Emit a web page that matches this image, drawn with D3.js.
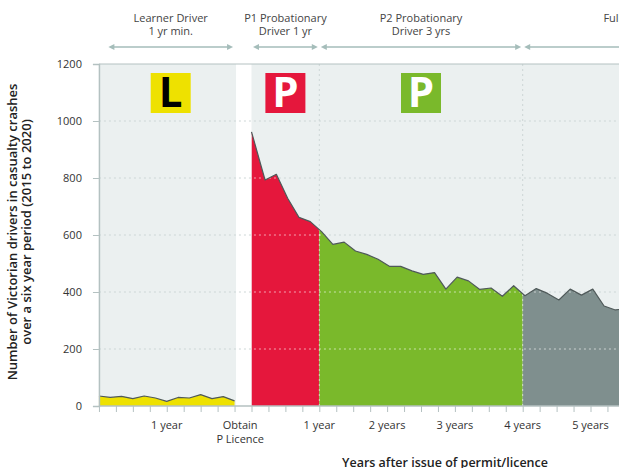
<!DOCTYPE html>
<html><head><meta charset="utf-8">
<script src="https://cdn.jsdelivr.net/npm/d3@7/dist/d3.min.js"></script>
<style>body{margin:0;background:#fff;} svg{display:block;font-family:"Open Sans",sans-serif;}</style>
</head><body><svg id="c" width="619" height="468"></svg>
<script>
// ---- data ----
const learnerMonths = [-27, -25, -23, -21, -19, -17, -15, -13, -11, -9, -7, -5, -3];
const learnerValues = [35, 30, 34, 26, 35, 28, 16, 30, 28, 40, 26, 33, 18];
const probMonths = [0, 2.4, 4.4, 6.4, 8.4, 10.4, 12.4, 14.4, 16.4, 18.4, 20.4, 22.4, 24.4, 26.4, 28.4, 30.4, 32.4, 34.4, 36.4, 38.4, 40.4, 42.4, 44.4, 46.4, 48.4, 50.4, 52.4, 54.4, 56.4, 58.4, 60.4, 62.4, 64.4, 66.4];
const probValues = [962, 793, 813, 729, 662, 647, 612, 567, 575, 544, 532, 515, 490, 490, 474, 462, 468, 410, 452, 439, 409, 414, 385, 422, 387, 412, 395, 372, 410, 389, 410, 351, 337, 342];
const yTicks = [0, 200, 400, 600, 800, 1000, 1200];
const gridValues = [200, 400, 600, 800, 1000];
const gridMonths = [12, 48];
const xTickMonths = d3.range(-27, -2, 3).concat(d3.range(0, 67, 3));
const xLabelMonths = [-15, -2, 12, 24, 36, 48, 60];
const xLabelLines = [["1 year"], ["Obtain", "P Licence"], ["1 year"], ["2 years"], ["3 years"], ["4 years"], ["5 years"]];
const phaseLine1 = ["Learner Driver", "P1 Probationary", "P2 Probationary", "Full Licence"];
const phaseLine2 = ["1 yr min.", "Driver 1 yr", "Driver 3 yrs", ""];
const phaseArrowStart = [-25.6, 0, 12, 48];
const phaseArrowEnd = [-3, 12, 48, 87];
const bandStart = [0, 12, 48];
const bandEnd = [12, 48, 80];
const iconLetters = ["L", "P", "P"];
const yTitle = ["Number of Victorian drivers in casualty crashes", "over a six year period (2015 to 2020)"];
const xTitle = "Years after issue of permit/licence";

// ---- styles ----
const C = {bg:"#ebf0f0", yellow:"#eee100", red:"#e5173c", green:"#7ab92b", grey:"#7f8f8e",
  line:"#4f5959", axis:"#b4c1c1", grid:"#cdd6d6", arrow:"#a5bdba", text:"#333"};
const bandColors = [C.red, C.green, C.grey];
const iconFill = [C.yellow, C.red, C.green];
const iconText = ["#000", "#fff", "#fff"];

const W = 619, H = 468;
const svg = d3.select("#c");
const x = d3.scaleLinear().domain([0, 12]).range([251.5, 319.3]);
const y = d3.scaleLinear().domain([0, 1200]).range([406, 64]);

const learner = learnerMonths.map((m, i) => ({m, v: learnerValues[i]}));
const prob = probMonths.map((m, i) => ({m, v: probValues[i]}));

const defs = svg.append("defs");

// backgrounds
svg.append("rect").attr("x", x(-27)).attr("y", y(1200)).attr("width", x(-3) - x(-27) + 1.5).attr("height", y(0) - y(1200)).attr("fill", C.bg);
svg.append("rect").attr("x", x(0)).attr("y", y(1200)).attr("width", W - x(0)).attr("height", y(0) - y(1200)).attr("fill", C.bg);

// grid under
const gridG = svg.append("g");
function drawGrid(g, color, op) {
  g.selectAll("line.h").data(gridValues).join("line").attr("class", "h")
    .attr("x1", x(-27)).attr("x2", W).attr("y1", d => y(d)).attr("y2", d => y(d))
    .attr("stroke", color).attr("stroke-opacity", op).attr("stroke-width", 1).attr("stroke-dasharray", "2,3");
  g.selectAll("line.v").data(gridMonths).join("line").attr("class", "v")
    .attr("x1", d => x(d)).attr("x2", d => x(d)).attr("y1", y(1200)).attr("y2", y(0))
    .attr("stroke", color).attr("stroke-opacity", op).attr("stroke-width", 1).attr("stroke-dasharray", "2,3");
}
drawGrid(gridG, C.grid, 1);

// areas
const area = d3.area().x(d => x(d.m)).y0(y(0)).y1(d => y(d.v));
const line = d3.line().x(d => x(d.m)).y(d => y(d.v));

svg.append("path").attr("d", area(learner)).attr("fill", C.yellow);
bandStart.forEach((s, i) => {
  const id = "band" + i;
  defs.append("clipPath").attr("id", id).append("rect")
    .attr("x", x(s)).attr("y", 0).attr("width", Math.min(x(bandEnd[i]), W + 20) - x(s)).attr("height", H);
  svg.append("path").attr("d", area(prob)).attr("fill", bandColors[i]).attr("clip-path", `url(#${id})`);
});

// grid over areas (light)
defs.append("clipPath").attr("id", "areaClip").append("path").attr("d", area(prob));
const gridOver = svg.append("g").attr("clip-path", "url(#areaClip)");
drawGrid(gridOver, "#ffffff", 0.6);

svg.append("path").attr("d", line(learner)).attr("fill", "none").attr("stroke", C.line).attr("stroke-width", 1.2).attr("stroke-linejoin", "round");
svg.append("path").attr("d", line(prob)).attr("fill", "none").attr("stroke", C.line).attr("stroke-width", 1.2).attr("stroke-linejoin", "round");

// top line
svg.append("line").attr("x1", x(-27)).attr("x2", W).attr("y1", y(1200)).attr("y2", y(1200))
  .attr("stroke", C.axis).attr("stroke-width", 1);

// y axis
const yAxis = d3.axisLeft(y).tickValues(yTicks).tickSize(6).tickPadding(11).tickFormat(d3.format("d"));
const yg = svg.append("g").attr("transform", `translate(${x(-27)},0)`).call(yAxis);
yg.select(".domain").attr("stroke", C.axis).attr("stroke-width", 1.5);
yg.selectAll(".tick line").attr("stroke", C.axis);
yg.selectAll(".tick text").attr("fill", C.text).attr("font-size", 11).attr("font-family", '"Open Sans",sans-serif');

// x axis
const xAxis = d3.axisBottom(x).tickValues(xTickMonths).tickSize(6).tickFormat("");
const xg = svg.append("g").attr("transform", `translate(0,${y(0)})`).call(xAxis);
xg.select(".domain").remove();
xg.append("line").attr("x1", x(-27)).attr("x2", W).attr("stroke", C.axis).attr("stroke-width", 1.5);
xg.selectAll(".tick line").attr("stroke", C.axis);

// x labels
xLabelMonths.forEach((m, i) => {
  const t = svg.append("text").attr("x", x(m)).attr("y", 429).attr("text-anchor", "middle")
    .attr("font-size", 11).attr("fill", C.text);
  xLabelLines[i].forEach((s, j) => t.append("tspan").attr("x", x(m)).attr("dy", j ? 14 : 0).text(s));
});

// icons
phaseLine1.slice(0, 3).forEach((_, i) => {
  const cx = (x(phaseArrowStart[i]) + x(phaseArrowEnd[i])) / 2;
  svg.append("rect").attr("x", cx - 20).attr("y", 73).attr("width", 40).attr("height", 40).attr("fill", iconFill[i]);
  svg.append("text").attr("x", cx).attr("y", 107).attr("text-anchor", "middle").attr("font-size", 42)
    .attr("font-weight", 700).attr("fill", iconText[i]).text(iconLetters[i]);
});

// header arrows + labels
phaseLine1.forEach((lab, i) => {
  const x1 = x(phaseArrowStart[i]) + 1.5, x2 = x(phaseArrowEnd[i]) - 1.5, yy = 47;
  const cx = (x1 + x2) / 2;
  svg.append("line").attr("x1", x1 + 4).attr("x2", x2 - 4).attr("y1", yy).attr("y2", yy)
    .attr("stroke", C.arrow).attr("stroke-width", 1.6);
  svg.append("path").attr("d", `M${x1},${yy}L${x1 + 6},${yy - 3}L${x1 + 6},${yy + 3}Z`).attr("fill", C.arrow);
  svg.append("path").attr("d", `M${x2},${yy}L${x2 - 6},${yy - 3}L${x2 - 6},${yy + 3}Z`).attr("fill", C.arrow);
  svg.append("text").attr("x", cx).attr("y", 21.5).attr("text-anchor", "middle").attr("font-size", 11).attr("fill", "#444").text(lab);
  svg.append("text").attr("x", cx).attr("y", 35).attr("text-anchor", "middle").attr("font-size", 11).attr("fill", "#444").text(phaseLine2[i]);
});

// titles
yTitle.forEach((s, i) => {
  svg.append("text").attr("transform", `translate(${16.5 + i * 14},232) rotate(-90)`).attr("text-anchor", "middle")
    .attr("font-size", 13).attr("font-weight", 600).attr("fill", "#222").text(s);
});
svg.append("text").attr("x", 445).attr("y", 467).attr("text-anchor", "middle").attr("font-size", 12.5)
  .attr("font-weight", 600).attr("fill", "#222").text(xTitle);
</script></body></html>
